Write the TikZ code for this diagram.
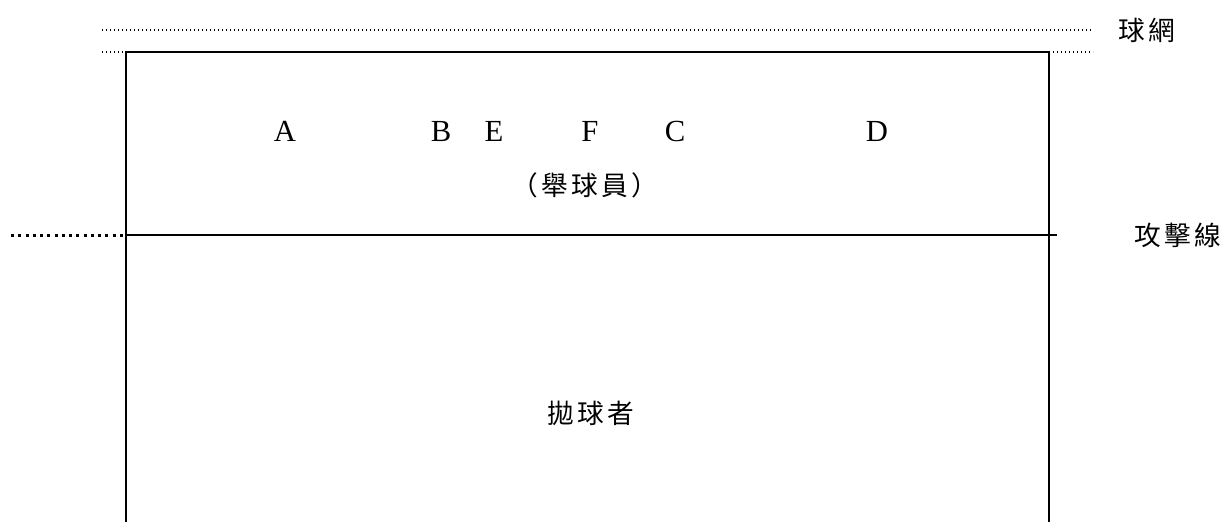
\documentclass[tikz,border=0pt]{standalone}
\usepackage{fontspec}
\setmainfont{Liberation Serif}
\newfontfamily\cjk[LetterSpace=12]{Noto Sans CJK TC}
\begin{document}
\begin{tikzpicture}[x=0.75pt,y=-0.75pt,
  net/.style={line width=0.8pt, dash pattern=on 0.8pt off 2.2pt},
  court/.style={line width=1.4pt},
  thickdot/.style={line width=2.25pt, dash pattern=on 2.25pt off 3.2pt},
  letter/.style={font=\fontsize{23}{26}\selectfont, inner sep=0pt, anchor=base},
  ctext/.style={font=\cjk\fontsize{20}{24}\selectfont, inner sep=0pt}]
\useasboundingbox (0,0) rectangle (1227,522);
\coordinate (n1) at (102,30);
\coordinate (n2) at (1093,30);
\coordinate (m1) at (102,52);
\coordinate (tl) at (126,52);
\coordinate (tr) at (1049,52);
\coordinate (m2) at (1093,52);
\coordinate (bl) at (126,522);
\coordinate (br) at (1049,522);
\coordinate (al) at (126,235);
\coordinate (ar) at (1057,235);
\coordinate (ad) at (11,235);
\draw[net] (n1) -- (n2);
\draw[net] (m1) -- (tl);
\draw[net] (tr) -- (m2);
\draw[court] (bl) -- (tl) -- (tr) -- (br);
\draw[line width=1.1pt] (al) -- (ar);
\draw[thickdot] (ad) -- (al);
\node[ctext] (net) at (1147,30) {球網};
\node[ctext] (atk) at (1178,235) {攻擊線};
\node[letter] (A) at (285,141) {A};
\node[letter] (B) at (441,141) {B};
\node[letter] (E) at (494,141) {E};
\node[letter] (F) at (590,141) {F};
\node[letter] (C) at (675,141) {C};
\node[letter] (D) at (877,141) {D};
\node[ctext] (setter) at (585,185) {（舉球員）};
\node[ctext] (toss) at (591,413) {拋球者};
\end{tikzpicture}
\end{document}
